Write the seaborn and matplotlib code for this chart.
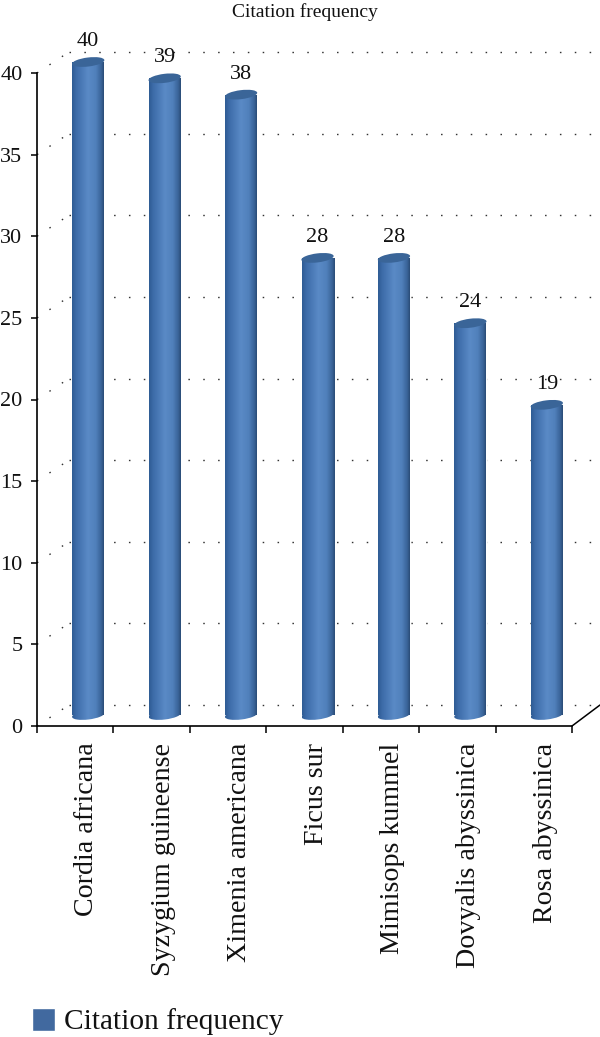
"""
Citation frequency of plant species, drawn as 3D style cylinders
"""
import numpy as np
import pandas as pd
import matplotlib
matplotlib.use('Agg')
import matplotlib.pyplot as plt
from matplotlib.colors import LinearSegmentedColormap
from matplotlib.patches import Ellipse
from matplotlib.transforms import ScaledTranslation
import seaborn as sns

species = ['Cordia africana', 'Syzygium guineense', 'Ximenia americana', 'Ficus sur',
           'Mimisops kummel', 'Dovyalis abyssinica', 'Rosa abyssinica']
citations = [40, 39, 38, 28, 28, 24, 19]
y_ticks = [0, 5, 10, 15, 20, 25, 30, 35, 40]
series_name = 'Citation frequency'

W, H = 600, 1037
LEFT, RIGHT, BASE = 37, 600, 726
PX_PER_CAT = 76.43
PX_PER_UNIT = 16.325

# depth offsets, in data units
BAR_DX, BAR_DY = 13 / PX_PER_CAT, 11 / PX_PER_UNIT
WALL_DX, WALL_DY = 32 / PX_PER_CAT, 21 / PX_PER_UNIT

sns.set_theme(style='white')
plt.rcParams['font.family'] = ['Liberation Serif', 'DejaVu Serif']
plt.rcParams['text.color'] = '#111111'

fig = plt.figure(figsize=(W / 100, H / 100), dpi=100)
ax = fig.add_axes([LEFT / W, (H - BASE) / H, (RIGHT - LEFT) / W, (BASE - 30) / H])
ax.patch.set_alpha(0)

df = pd.DataFrame({'species': species, 'citations': citations, 'series': series_name})
sns.barplot(data=df, x='species', y='citations', hue='series', palette=['#41699f'],
            width=32 / PX_PER_CAT, saturation=1, gap=0, ax=ax, zorder=2)

x_max = -0.5 + (RIGHT - LEFT) / PX_PER_CAT
y_max = (BASE - 30) / PX_PER_UNIT
ax.set_autoscale_on(False)

# grid dots on the back wall and along the side wall
dots = (0, (1.1, 9.6))
for v in y_ticks:
    ax.plot([-0.5 + WALL_DX, x_max], [v + WALL_DY] * 2, color='#333333', lw=1.0,
            ls=dots, zorder=1, dash_capstyle='butt')
    ax.plot([-0.5, -0.5 + WALL_DX], [v, v + WALL_DY], color='#333333', lw=1.0,
            ls=dots, zorder=1, dash_capstyle='butt')
ax.plot([6.5, 6.5 + 28 / PX_PER_CAT], [0, WALL_DY], color='black', lw=1.1, zorder=1)

cyl = LinearSegmentedColormap.from_list('cyl', [
    (0.0, '#2f5c94'), (0.12, '#3c6ba8'), (0.5, '#5a8ac6'),
    (0.75, '#5080bb'), (0.92, '#3a6499'), (1.0, '#2b4d78')])
grad = np.linspace(0, 1, 64).reshape(1, -1)


def ellipse_at(x, y, color, zorder):
    # tilted ellipse sized in inches, anchored at a data position
    tr = fig.dpi_scale_trans + ScaledTranslation(x, y, ax.transData)
    e = Ellipse((0, 0), 0.325, 0.09, angle=7, transform=tr, facecolor=color,
                edgecolor='none', zorder=zorder)
    return e


bars = ax.containers[0]
for bar, v in zip(bars, citations):
    bar.set_x(bar.get_x() + BAR_DX)
    bar.set_y(BAR_DY)
    x0, x1 = bar.get_x(), bar.get_x() + bar.get_width()
    xc = (x0 + x1) / 2
    extent = [x0, x1, 0, v + 2]
    body = ax.imshow(grad, cmap=cyl, extent=extent, aspect='auto', zorder=3)
    body.set_clip_path(bar)
    foot = ellipse_at(xc, BAR_DY, 'none', 2)
    ax.add_patch(foot)
    foot_img = ax.imshow(grad, cmap=cyl, extent=extent, aspect='auto', zorder=3)
    foot_img.set_clip_path(foot)
    ax.add_patch(ellipse_at(xc, v + BAR_DY, '#3a6598', 4))

ax.bar_label(bars, labels=[str(c) for c in citations], padding=8, fontsize=16, zorder=5)

ax.set_xlim(-0.5, x_max)
ax.set_ylim(0, y_max)
ax.set_xlabel('')
ax.set_ylabel('')

# ticks sit between categories, labels at the centres
ax.set_xticks(np.arange(len(species) + 1) - 0.5)
ax.set_xticklabels([])
ax.set_xticks(range(len(species)), species, minor=True, rotation=90, fontsize=20.2, va='top', ha='center')
ax.set_yticks(y_ticks, [str(v) for v in y_ticks], fontsize=16)
ax.tick_params(axis='x', which='major', bottom=True, length=5, width=1.1, color='black')
ax.tick_params(axis='x', which='minor', bottom=False, pad=8, labelcolor='#111111')
ax.tick_params(axis='y', left=True, length=4.5, width=1.1, color='black', pad=6, labelcolor='#111111')
shift = ScaledTranslation(11.5 / 100, 0, fig.dpi_scale_trans)
for lab in ax.get_xticklabels(minor=True):
    lab.set_transform(lab.get_transform() + shift)

sns.despine(ax=ax, top=True, right=True)
ax.spines['left'].set_bounds(0, 40)
ax.spines['bottom'].set_bounds(-0.5, 6.5)
for s in ['left', 'bottom']:
    ax.spines[s].set_color('black')
    ax.spines[s].set_linewidth(1.2)

sns.move_legend(ax, 'lower left', bbox_to_anchor=(8 / W, -22 / H), bbox_transform=fig.transFigure,
                title=None, frameon=False, fontsize=21.2, handlelength=0.8, handleheight=0.82,
                handletextpad=0.3, borderpad=0.3)

fig.text(305 / W, 1 - 12 / H, series_name, ha='center', va='center', fontsize=14)

fig.savefig('out.png', dpi=100)
plt.close(fig)
